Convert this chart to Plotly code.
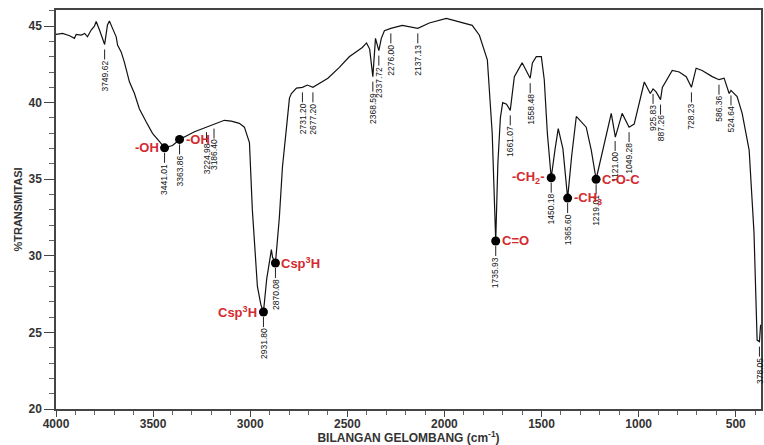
import numpy as np
import plotly.graph_objects as go

# ---- spectrum trace (wavenumber cm-1, %T) ----
wavenumber = [4000, 3999, 3966, 3930, 3905, 3896, 3870, 3852, 3838, 3819, 3802, 3793, 3776, 3761,
              3749.62, 3735, 3725, 3709, 3690, 3683, 3664, 3647, 3639, 3622, 3596, 3571, 3536,
              3503, 3467, 3441.01, 3400, 3363.86, 3287, 3225, 3184, 3133, 3097, 3056, 3030, 3004,
              2989, 2963, 2945, 2931.80, 2915, 2891, 2885, 2870.08, 2850, 2834, 2813, 2798, 2788,
              2762, 2731.20, 2706, 2677.20, 2600, 2541, 2490, 2423, 2401, 2385, 2368.59, 2355,
              2337.72, 2325, 2309, 2276.00, 2217, 2137.13, 2078, 1990, 1908, 1857, 1820, 1779,
              1754, 1735.93, 1725, 1712, 1700, 1680, 1661.07, 1640, 1600, 1558.48, 1547, 1527,
              1501, 1486, 1470, 1450.18, 1430, 1414, 1390, 1365.60, 1345, 1321, 1270, 1244,
              1219.01, 1187, 1141, 1120, 1085, 1049.28, 1023, 971, 940, 925.83, 910, 887.26, 878,
              827, 791, 755, 728.23, 704, 673, 621, 586.36, 560, 534, 524.64, 493, 467, 431, 406,
              390, 378.05, 372]
transmittance = [44.5, 44.46, 44.52, 44.37, 44.2, 44.46, 44.41, 44.52, 44.3, 44.74, 45.0, 45.3, 44.74,
                 44.2, 43.8, 45.07, 45.33, 44.85, 44.3, 43.76, 43.3, 42.6, 42.2, 41.36, 40.6, 39.6,
                 38.75, 38.0, 37.45, 37.05, 37.2, 37.6, 38.1, 38.4, 38.65, 38.85, 38.8, 38.65, 38.4,
                 37.4, 33.0, 28.0, 26.8, 26.33, 28.5, 30.4, 29.9, 29.53, 32.5, 35.8, 38.4, 40.3,
                 40.6, 40.95, 41.0, 41.15, 41.0, 41.6, 42.3, 43.0, 43.6, 43.9, 43.5, 41.7, 44.2,
                 43.4, 44.2, 44.7, 44.85, 45.05, 44.85, 45.2, 45.5, 45.25, 45.05, 44.4, 42.8,
                 38.0, 30.97, 36.0, 39.0, 40.0, 39.9, 39.5, 41.7, 42.6, 41.6, 42.6, 43.0, 43.0,
                 41.5, 38.0, 35.1, 37.0, 38.3, 37.0, 33.77, 36.5, 39.1, 38.4, 36.9, 35.0, 36.7,
                 39.3, 37.75, 39.3, 38.4, 38.6, 41.35, 40.6, 40.9, 40.7, 40.2, 41.0, 42.1, 42.0,
                 41.7, 41.0, 42.25, 42.1, 41.7, 41.5, 41.6, 40.6, 40.8, 40.4, 39.3, 36.9, 31.5,
                 24.5, 24.4, 25.5]

# ---- peak labels ----
peak_wn = [3749.62, 3441.01, 3363.86, 3224.98, 3186.40, 2931.80, 2870.08, 2731.20, 2677.20,
           2368.59, 2337.72, 2276.00, 2137.13, 1735.93, 1661.07, 1558.48, 1450.18, 1365.60,
           1219.01, 1121.00, 1049.28, 925.83, 887.26, 728.23, 586.36, 524.64, 378.05]
peak_text = ["3749.62", "3441.01", "3363.86", "3224.98", "3186.40", "2931.80", "2870.08",
             "2731.20", "2677.20", "2368.59", "2337.72", "2276.00", "2137.13", "1735.93",
             "1661.07", "1558.48", "1450.18", "1365.60", "1219.01", "1121.00", "1049.28",
             "925.83", "887.26", "728.23", "586.36", "524.64", "378.05"]

# ---- marked functional groups ----
group_wn = [3441.01, 3363.86, 2931.80, 2870.08, 1735.93, 1450.18, 1365.60, 1219.01]
group_text = ["-OH", "-OH", "Csp<sup>3</sup>H", "Csp<sup>3</sup>H", "C=O",
              "-CH<sub>2</sub>-", "-CH<sub>3</sub>", "C-O-C"]
group_side = ["left", "right", "left", "right", "right", "left", "right", "right"]

wn_arr = np.array(wavenumber[::-1])
tr_arr = np.array(transmittance[::-1])
def curve_at(w):
    return float(np.interp(w, wn_arr, tr_arr))

RED = "#d42a30"
FONT = "Liberation Sans"

fig = go.Figure()
fig.add_trace(go.Scatter(x=wavenumber, y=transmittance, mode="lines",
                         line=dict(color="#111111", width=1.2), hoverinfo="skip",
                         showlegend=False))
fig.add_trace(go.Scatter(x=group_wn, y=[curve_at(w) for w in group_wn], mode="markers",
                         marker=dict(color="#000000", size=9), showlegend=False))

for w, t in zip(peak_wn, peak_text):
    v = curve_at(w)
    fig.add_shape(type="line", xref="x", yref="y", ysizemode="pixel", yanchor=v,
                  x0=w, x1=w, y0=-5, y1=-15, line=dict(color="#222222", width=1))
    fig.add_annotation(x=w, y=v, text=t, showarrow=False, textangle=-90,
                       yanchor="top", xanchor="center", yshift=-14,
                       font=dict(family=FONT, size=8.5, color="#111111"))

for w, t, s in zip(group_wn, group_text, group_side):
    v = curve_at(w)
    fig.add_annotation(x=w, y=v, text=t, showarrow=False,
                       xanchor="right" if s == "left" else "left",
                       xshift=-4 if s == "left" else 4, yanchor="middle",
                       font=dict(family=FONT, size=13, color=RED, weight="bold"))

fig.update_layout(
    width=764, height=445,
    margin=dict(l=56, r=3, t=10, b=36),
    paper_bgcolor="white", plot_bgcolor="white",
    font=dict(family=FONT, color="#333333"),
    xaxis=dict(range=[4000, 370], tickvals=[4000, 3500, 3000, 2500, 2000, 1500, 1000, 500],
               automargin=False,
               showgrid=False, zeroline=False, showline=True, linecolor="#444444",
               linewidth=1.5, mirror=True, ticks="outside", ticklen=6, tickwidth=1.2,
               tickcolor="#444444", ticklabelstandoff=-3,
               minor=dict(dtick=100, tick0=0, ticks="outside", ticklen=4, tickcolor="#666666"),
               tickfont=dict(size=12, color="#333333", weight="bold"),
               title=dict(text="BILANGAN GELOMBANG (cm<sup>-1</sup>)", standoff=0,
                          font=dict(size=12, color="#333333", weight="bold"))),
    yaxis=dict(range=[20, 46.05], tickvals=[20, 25, 30, 35, 40, 45],
               automargin=False,
               showgrid=False, zeroline=False, showline=True, linecolor="#444444",
               linewidth=1.5, mirror=True, ticks="outside", ticklen=10, tickwidth=1.2,
               tickcolor="#444444",
               minor=dict(dtick=1, tick0=0, ticks="outside", ticklen=5, tickcolor="#666666"),
               tickfont=dict(size=12, color="#333333", weight="bold"),
               title=dict(text="%TRANSMITASI", standoff=4,
                          font=dict(size=11, color="#333333", weight="bold"))),
)

fig.write_html("out.html", config={"displayModeBar": False},
               post_script="document.body.style.margin='0px';")
